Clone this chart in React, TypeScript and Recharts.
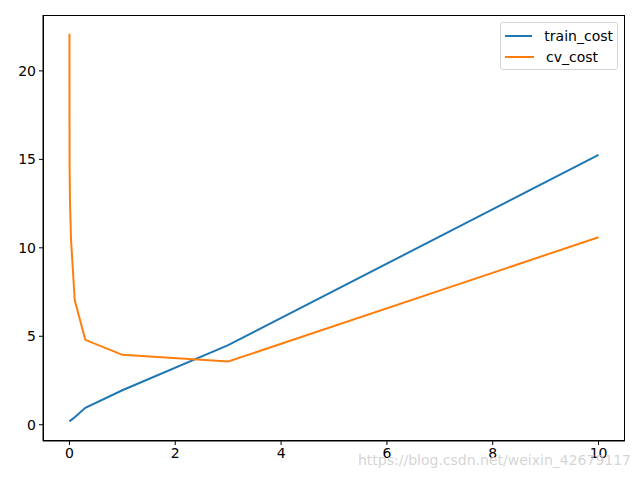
import { Line, LineChart, XAxis, YAxis } from "recharts";

const lambdas = [0, 0.001, 0.003, 0.01, 0.03, 0.1, 0.3, 1, 3, 10];
const trainCost = [0.19, 0.19, 0.2, 0.21, 0.26, 0.42, 0.96, 1.95, 4.5, 15.25];
const cvCost = [22.1, 17.5, 14.5, 12.6, 10.45, 7.03, 4.8, 3.95, 3.57, 10.6];
const xTicks = [0, 2, 4, 6, 8, 10];
const yTicks = [0, 5, 10, 15, 20];
const seriesNames = ["train_cost", "cv_cost"];
const seriesColors = ["#1f77b4", "#ff7f0e"];

const data = lambdas.map((l, i) => ({ lambda: l, train_cost: trainCost[i], cv_cost: cvCost[i] }));

const font = "'DejaVu Sans', sans-serif";
const tickStyle = { fill: "#000", fontSize: 14, fontFamily: font };

export default function App() {
  return (
    <div style={{ position: "absolute", left: 0, top: 0, width: 640, height: 480, background: "#fff", overflow: "hidden" }}>
      <LineChart width={640} height={480} data={data} margin={{ top: 15, right: 15, left: 0, bottom: 0 }}>
        <XAxis
          dataKey="lambda"
          type="number"
          domain={[-0.5, 10.5]}
          ticks={xTicks}
          allowDataOverflow
          height={39}
          tickSize={4}
          tickMargin={3}
          stroke="#000"
          tick={tickStyle}
          tickLine={{ stroke: "#000" }}
        />
        <YAxis
          type="number"
          domain={[-0.92, 23.16]}
          ticks={yTicks}
          allowDataOverflow
          width={43}
          tickSize={4}
          tickMargin={3}
          stroke="#000"
          tick={tickStyle}
          tickLine={{ stroke: "#000" }}
        />
        <Line type="linear" dataKey="train_cost" stroke={seriesColors[0]} strokeWidth={2} dot={false} isAnimationActive={false} />
        <Line type="linear" dataKey="cv_cost" stroke={seriesColors[1]} strokeWidth={2} dot={false} isAnimationActive={false} />
      </LineChart>
      {/* axes frame */}
      <div
        style={{
          position: "absolute",
          left: 43,
          top: 15,
          width: 582,
          height: 426,
          boxSizing: "border-box",
          border: "1px solid #000",
          pointerEvents: "none",
        }}
      />
      <div
        style={{
          position: "absolute",
          left: 500,
          top: 22,
          width: 118,
          boxSizing: "border-box",
          border: "1px solid #d6d6d6",
          borderRadius: 3,
          background: "#fff",
          padding: "2px 4px",
          fontFamily: font,
          fontSize: 14,
          color: "#000",
        }}
      >
        {seriesNames.map((name, i) => (
          <div key={name} style={{ display: "flex", alignItems: "center", height: 21 }}>
            <span style={{ display: "inline-block", width: 29, height: 2, background: seriesColors[i], marginRight: 12 }} />
            <span>{name}</span>
          </div>
        ))}
      </div>
      <div
        style={{
          position: "absolute",
          left: 358,
          top: 452,
          fontFamily: font,
          fontSize: 14,
          whiteSpace: "nowrap",
          color: "rgba(205,205,205,0.85)",
        }}
      >
        https://blog.csdn.net/weixin_42679117
      </div>
    </div>
  );
}
